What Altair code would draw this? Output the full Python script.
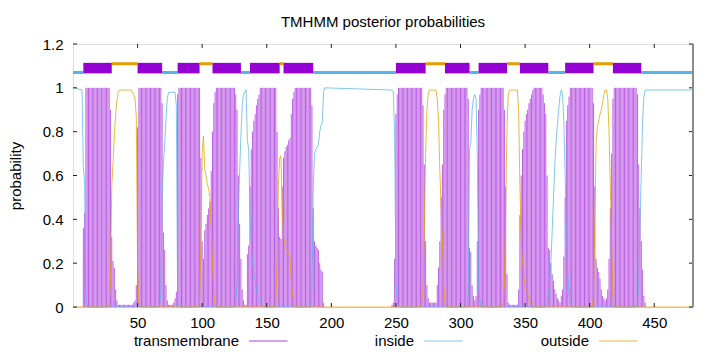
import altair as alt
import pandas as pd

# ---------------- data ----------------
TITLE = "TMHMM posterior probabilities"
Y_LABEL = "probability"
SEQ_LEN = 480
X_TICKS = [50, 100, 150, 200, 250, 300, 350, 400, 450]
Y_TICKS = [0, 0.2, 0.4, 0.6, 0.8, 1.0, 1.2]
SERIES = ["transmembrane", "inside", "outside"]
COLORS = ["#9400D3", "#56B4E9", "#E69F00"]

# predicted topology (kind, first residue, last residue)
topology = [
    ("inside", 1, 7), ("TMhelix", 8, 30), ("outside", 31, 49), ("TMhelix", 50, 69),
    ("inside", 70, 80), ("TMhelix", 81, 98), ("outside", 99, 107), ("TMhelix", 108, 130),
    ("inside", 131, 136), ("TMhelix", 137, 160), ("outside", 161, 162), ("TMhelix", 163, 186),
    ("inside", 187, 249), ("TMhelix", 250, 273), ("outside", 274, 287), ("TMhelix", 288, 307),
    ("inside", 308, 313), ("TMhelix", 314, 336), ("outside", 337, 345), ("TMhelix", 346, 368),
    ("inside", 369, 380), ("TMhelix", 381, 403), ("outside", 404, 417), ("TMhelix", 418, 440),
    ("inside", 441, 480),
]

# transmembrane posterior: residue ranges that sit at 1.0 ...
tm_plateaus = [(10, 28), (51, 68), (82, 98), (111, 125), (145, 157), (172, 184),
               (252, 270), (289, 305), (316, 333), (357, 363), (385, 402), (419, 436)]
# ... and the per-residue values around them (start residue, values)
tm_edges = [
    (8, [0.36, 0.43]),
    (29, [0.90, 0.32, 0.21, 0.18, 0.08, 0.03, 0.01, 0.01, 0.01, 0.01, 0.01, 0.01, 0.01,
          0.01, 0.01, 0.01, 0.01, 0.01, 0.02, 0.03, 0.10, 0.82]),
    (69, [0.93, 0.34, 0.26, 0.10, 0.03, 0.01, 0.01, 0.01, 0.01, 0.02, 0.04, 0.07, 0.97]),
    (99, [0.68, 0.30, 0.22, 0.35, 0.38, 0.42, 0.45, 0.48, 0.62, 0.80, 0.93, 0.98]),
    (126, [0.97, 0.90, 0.60, 0.38, 0.22, 0.08, 0.03, 0.01, 0.01, 0.24, 0.28, 0.55, 0.72,
           0.80, 0.85, 0.88, 0.92, 0.95, 0.97]),
    (158, [0.80, 0.45, 0.32, 0.31, 0.55, 0.68, 0.71, 0.73, 0.74, 0.76, 0.77, 0.88, 0.95, 0.98]),
    (185, [0.92, 0.45, 0.30, 0.28, 0.27, 0.26, 0.20, 0.17, 0.16, 0.02]),
    (247, [0.01, 0.02, 0.22, 0.88, 0.97]),
    (271, [0.92, 0.65, 0.30, 0.10, 0.04, 0.02, 0.02, 0.02, 0.02, 0.02, 0.02, 0.10, 0.18,
           0.30, 0.50, 0.65, 0.90, 0.97]),
    (306, [0.95, 0.27, 0.25, 0.10, 0.05, 0.03, 0.05, 0.30, 0.90, 0.97]),
    (334, [0.90, 0.55, 0.15, 0.02, 0.01, 0.01, 0.01, 0.01, 0.01, 0.01, 0.01, 0.08, 0.42,
           0.60, 0.72, 0.80, 0.85, 0.88, 0.90, 0.93, 0.95, 0.97, 0.99]),
    (364, [0.97, 0.93, 0.88, 0.60, 0.27, 0.26, 0.20, 0.15, 0.12, 0.08, 0.06, 0.04, 0.03,
           0.02, 0.05, 0.08, 0.23, 0.50, 0.85, 0.92, 0.96]),
    (403, [0.93, 0.55, 0.22, 0.18, 0.16, 0.13, 0.08, 0.05, 0.04, 0.03, 0.04, 0.08, 0.22,
           0.45, 0.70, 0.95]),
    (437, [0.97, 0.65, 0.45, 0.30, 0.17, 0.05, 0.02]),
]

# inside posterior (residue, probability) vertices
inside_points = [
    (1, 1.0), (7, 0.99), (8, 0.64), (9, 0.57), (10, 0.03), (11, 0.0),
    (66, 0.0), (67, 0.01), (68, 0.06), (69, 0.5), (70, 0.66), (71, 0.74), (72, 0.86),
    (73, 0.95), (74, 0.98), (79, 0.98), (80, 0.92), (81, 0.03), (82, 0.0),
    (125, 0.0), (126, 0.02), (127, 0.1), (128, 0.4), (129, 0.62), (130, 0.78), (131, 0.92),
    (132, 0.97), (134, 0.99), (135, 0.76), (136, 0.72), (137, 0.45), (138, 0.28), (139, 0.2),
    (140, 0.15), (141, 0.12), (142, 0.08), (143, 0.05), (144, 0.03), (146, 0.01), (148, 0.0),
    (184, 0.0), (185, 0.08), (186, 0.55), (187, 0.7), (188, 0.72), (189, 0.73), (190, 0.74),
    (191, 0.8), (192, 0.83), (193, 0.84), (194, 0.98), (195, 1.0),
    (247, 0.99), (248, 0.98), (249, 0.78), (250, 0.12), (251, 0.03), (252, 0.0),
    (305, 0.0), (306, 0.05), (307, 0.72), (308, 0.75), (309, 0.9), (310, 0.95), (311, 0.97),
    (312, 0.95), (313, 0.7), (314, 0.1), (315, 0.03), (316, 0.0),
    (366, 0.0), (367, 0.02), (368, 0.05), (369, 0.1), (370, 0.2), (371, 0.35), (372, 0.5),
    (373, 0.65), (374, 0.75), (375, 0.83), (376, 0.9), (377, 0.96), (378, 0.99), (379, 0.97),
    (380, 0.85), (381, 0.6), (382, 0.35), (383, 0.15), (384, 0.06), (385, 0.02), (387, 0.0),
    (436, 0.0), (437, 0.02), (438, 0.1), (439, 0.4), (440, 0.62), (441, 0.85), (442, 0.96),
    (443, 0.99), (480, 0.99),
]

# outside posterior (residue, probability) vertices
outside_points = [
    (1, 0.0), (27, 0.0), (28, 0.02), (29, 0.1), (30, 0.55), (31, 0.66), (32, 0.78),
    (33, 0.88), (34, 0.94), (35, 0.98), (36, 0.99), (45, 0.99), (47, 0.97), (48, 0.95),
    (49, 0.87), (50, 0.18), (51, 0.02), (52, 0.0),
    (97, 0.0), (98, 0.02), (99, 0.3), (100, 0.7), (101, 0.78), (102, 0.63), (103, 0.6),
    (104, 0.56), (105, 0.54), (106, 0.5), (107, 0.36), (108, 0.2), (109, 0.06), (110, 0.01),
    (111, 0.0),
    (156, 0.0), (157, 0.02), (158, 0.2), (159, 0.55), (160, 0.68), (161, 0.69), (162, 0.45),
    (163, 0.32), (164, 0.29), (165, 0.27), (166, 0.26), (167, 0.24), (168, 0.23), (169, 0.12),
    (170, 0.05), (171, 0.02), (172, 0.0),
    (269, 0.0), (270, 0.02), (271, 0.08), (272, 0.35), (273, 0.7), (274, 0.9), (275, 0.97),
    (276, 0.99), (281, 0.99), (282, 0.95), (283, 0.85), (284, 0.62), (285, 0.45), (286, 0.3),
    (287, 0.1), (288, 0.02), (289, 0.0),
    (332, 0.0), (333, 0.02), (334, 0.1), (335, 0.45), (336, 0.82), (337, 0.97), (338, 0.99),
    (344, 0.99), (345, 0.9), (346, 0.55), (347, 0.3), (348, 0.2), (349, 0.14), (350, 0.1),
    (351, 0.08), (352, 0.06), (353, 0.04), (355, 0.01), (356, 0.0),
    (402, 0.0), (403, 0.05), (404, 0.4), (405, 0.75), (406, 0.82), (407, 0.85), (408, 0.88),
    (409, 0.9), (410, 0.93), (411, 0.97), (412, 0.99), (413, 0.99), (414, 0.95), (415, 0.8),
    (416, 0.55), (417, 0.3), (418, 0.05), (419, 0.0), (480, 0.0),
]

# ---------------- tables ----------------
tm = {r: 0.0 for r in range(1, SEQ_LEN + 1)}
for a, b in tm_plateaus:
    for r in range(a, b + 1):
        tm[r] = 1.0
for start, vals in tm_edges:
    for i, v in enumerate(vals):
        tm[start + i] = v
tm_df = pd.DataFrame({"residue": list(tm.keys()), "prob": list(tm.values())})
in_df = pd.DataFrame(inside_points, columns=["residue", "prob"])
out_df = pd.DataFrame(outside_points, columns=["residue", "prob"])
topo_df = pd.DataFrame(topology, columns=["kind", "start", "end"])

# ---------------- layout ----------------
W, H = 620, 263
FONT = "Liberation Sans"
FS = 15
TOPO_LEVEL = {"inside": 1.07, "outside": 1.11}

xs = alt.Scale(domain=[0, SEQ_LEN], nice=False, zero=False)
ys = alt.Scale(domain=[0, 1.2], nice=False)
x_axis = alt.Axis(values=X_TICKS, title=None, grid=False, domain=False, ticks=False,
                  labelFont=FONT, labelFontSize=FS, labelColor="#000", labelPadding=8,
                  labelFlush=False)
y_axis = alt.Axis(values=Y_TICKS, format=".1~f", title=Y_LABEL, grid=False, domain=False,
                  ticks=False, labelFont=FONT, labelFontSize=FS, labelColor="#000",
                  labelPadding=10, titleFont=FONT, titleFontSize=FS, titleFontWeight="normal",
                  titleColor="#000", titleX=-58, titleY=H / 2, titleAlign="center",
                  titleBaseline="middle", titleAngle=270)

X = lambda f: alt.X(f, scale=xs, axis=x_axis)
Y = lambda f: alt.Y(f, scale=ys, axis=y_axis)

impulses = alt.Chart(tm_df).mark_rule(color=COLORS[0], strokeWidth=1, opacity=0.62).encode(
    x=X("residue:Q"), y=Y("prob:Q"), y2=alt.datum(0))

inside_line = alt.Chart(in_df).mark_line(color=COLORS[1], strokeWidth=1, opacity=0.75).encode(
    x=X("residue:Q"), y=Y("prob:Q"))
outside_line = alt.Chart(out_df).mark_line(color=COLORS[2], strokeWidth=1, opacity=0.75).encode(
    x=X("residue:Q"), y=Y("prob:Q"))

topo_lines = alt.Chart(topo_df).transform_filter(
    "datum.kind != 'TMhelix'"
).transform_calculate(
    x0="datum.start - 1", x1="datum.end + 1",
    level=f"datum.kind == 'inside' ? {TOPO_LEVEL['inside']} : {TOPO_LEVEL['outside']}",
).mark_rule(strokeWidth=3, clip=True).encode(
    x=X("x0:Q"), x2="x1:Q", y=Y("level:Q"),
    color=alt.Color("kind:N", scale=alt.Scale(domain=["inside", "outside"],
                                              range=[COLORS[1], COLORS[2]]), legend=None))

topo_boxes = alt.Chart(topo_df).transform_filter(
    "datum.kind == 'TMhelix'"
).transform_calculate(lo="1.066", hi="1.114").mark_rect(color=COLORS[0]).encode(
    x=X("start:Q"), x2="end:Q", y=Y("lo:Q"), y2="hi:Q")

xt_df = pd.DataFrame({"v": X_TICKS})
yt_df = pd.DataFrame({"v": Y_TICKS})
TICK = dict(color="#222", strokeWidth=1)
ticks_bottom = alt.Chart(xt_df).mark_rule(**TICK).encode(
    x=X("v:Q"), y=alt.value(H), y2=alt.value(H - 4))
ticks_top = alt.Chart(xt_df).mark_rule(**TICK).encode(
    x=X("v:Q"), y=alt.value(0), y2=alt.value(4))
ticks_left = alt.Chart(yt_df).mark_rule(**TICK).encode(
    y=Y("v:Q"), x=alt.value(0), x2=alt.value(4))
ticks_right = alt.Chart(yt_df).mark_rule(**TICK).encode(
    y=Y("v:Q"), x=alt.value(W - 4), x2=alt.value(W))
right_border = alt.Chart(pd.DataFrame({"v": [0]})).mark_rule(color="#8c8c8c", strokeWidth=2).encode(
    x=alt.value(W), y=alt.value(0), y2=alt.value(H))

# title as text above the frame
title_layer = alt.Chart(pd.DataFrame({"t": [TITLE]})).mark_text(
    align="center", baseline="alphabetic", font=FONT, fontSize=FS, color="#000"
).encode(text="t:N", x=alt.value(W / 2), y=alt.value(-17.3))

# legend (gnuplot style: label, then line sample)
LEG_Y = 297
LEG_TEXT_RIGHT = [166, 341, 516]
legend_layers = []
for name, col, xr in zip(SERIES, COLORS, LEG_TEXT_RIGHT):
    d = pd.DataFrame({"label": [name]})
    legend_layers.append(alt.Chart(d).mark_text(
        align="right", baseline="middle", font=FONT, fontSize=FS, color="#000"
    ).encode(text="label:N", x=alt.value(xr), y=alt.value(LEG_Y)))
    legend_layers.append(alt.Chart(d).mark_rule(color=col, strokeWidth=1, opacity=0.75).encode(
        x=alt.value(xr + 10), x2=alt.value(xr + 48.5), y=alt.value(LEG_Y)))

chart = alt.layer(
    impulses, inside_line, outside_line, topo_lines, topo_boxes,
    ticks_bottom, ticks_top, ticks_left, ticks_right, right_border, title_layer,
    *legend_layers
).properties(
    width=W, height=H,
    autosize=alt.AutoSizeParams(type="none"),
    padding={"left": 73, "top": 44, "right": 27, "bottom": 45},
).configure_view(stroke="#222", strokeWidth=1).configure(background="white")

chart.save("out.html", embed_options={"renderer": "svg", "actions": False})
